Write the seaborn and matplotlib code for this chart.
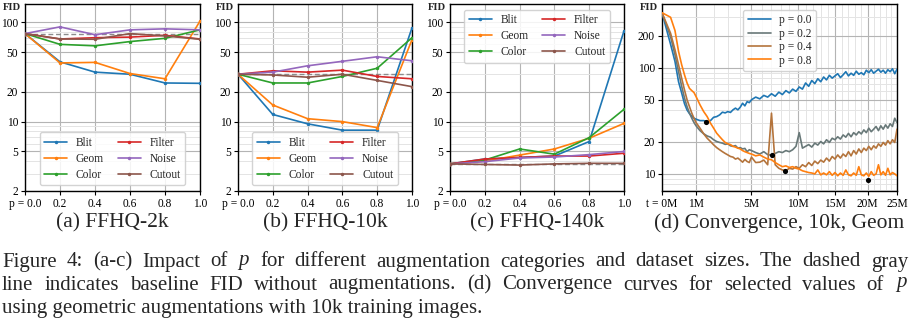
import numpy as np
import pandas as pd
import matplotlib
matplotlib.use("Agg")
import matplotlib.pyplot as plt
from matplotlib.lines import Line2D
from matplotlib.ticker import FixedLocator, NullFormatter, FixedFormatter
import seaborn as sns

# ---------------- data ----------------
p_values = [0.0, 0.2, 0.4, 0.6, 0.8, 1.0]
p_labels = ["p = 0.0", "0.2", "0.4", "0.6", "0.8", "1.0"]
categories = ["Blit", "Geom", "Color", "Filter", "Noise", "Cutout"]

# (a) FFHQ-2k
blit_2k = [77, 40, 31.5, 30, 24.5, 24.3]
geom_2k = [77, 39, 39.5, 30.5, 27, 103]
color_2k = [77, 60, 58, 64, 69, 84]
filter_2k = [77, 68, 70, 71, 74, 68]
noise_2k = [77, 90, 75, 84, 86, 84]
cutout_2k = [77, 68, 67.5, 77, 73, 67.5]
baseline_2k = 77

# (b) FFHQ-10k
blit_10k = [30, 11.8, 9.5, 8.2, 8.2, 88]
geom_10k = [30, 14.7, 10.7, 10, 8.7, 67]
color_10k = [30, 24.5, 24.5, 28.5, 34.5, 70]
filter_10k = [30, 32.5, 31.5, 33, 28.5, 27]
noise_10k = [30, 31.5, 36.5, 40.5, 45, 41]
cutout_10k = [30, 29.5, 28, 30, 26, 22.5]
baseline_10k = 30

# (c) FFHQ-140k
blit_140k = [3.75, 4.2, 4.35, 4.5, 6.3, 82]
geom_140k = [3.75, 4.0, 4.6, 5.3, 6.8, 9.6]
color_140k = [3.75, 4.1, 5.3, 4.7, 6.9, 13.3]
filter_140k = [3.75, 4.2, 4.35, 4.5, 4.5, 4.8]
noise_140k = [3.75, 3.95, 4.3, 4.4, 4.65, 5.0]
cutout_140k = [3.75, 3.7, 3.65, 3.75, 3.8, 3.8]
baseline_140k = 3.75

ab_yticks = [2, 5, 10, 20, 50, 100]

# (d) convergence (t in millions of images)
t_mimg = np.round(np.concatenate([np.arange(0.0, 1.01, 0.1),
                                  np.arange(1.2, 5.01, 0.2),
                                  np.arange(5.4, 25.01, 0.4)]), 2)
fid_p00 = [331, 167, 115, 74, 58, 46, 40, 37, 35, 33.5, 32.8,
           31.8, 31.8, 31.2, 31.8, 34.2, 34.7, 36.0, 38.2, 37.6, 38.7,
           38.0, 40.2, 41.7, 40.2, 42.6, 46.4, 43.8, 48, 47, 50,
           53, 51, 55, 53, 57, 54, 59, 56, 61, 58,
           63, 60, 66, 63, 72, 67, 76, 71, 79, 74,
           82, 77, 85, 80, 84, 88, 81, 86, 92, 84,
           89, 85, 93, 87, 90, 86, 95, 90, 96, 89,
           93, 97, 91, 95, 89, 96, 92, 98, 88, 97]
fid_p02 = [331, 197, 133, 92, 67, 52, 43, 37.4, 33.5, 30.5, 28.4,
           25.6, 23.9, 22.8, 22.2, 21, 20.2, 19.8, 19.5, 19, 19.2,
           18.4, 18.2, 18.5, 17.5, 17.7, 17.2, 17.4, 16.2, 16.9, 16.6,
           15.9, 15.4, 16.2, 15.2, 15, 15.6, 16.2, 15.9, 16.6, 16.2,
           16.9, 18.2, 24.5, 17.5, 18.2, 18.9, 17.9, 19.5, 18.7, 20.2,
           19.2, 21, 19.8, 21.7, 21, 22.4, 21.3, 23.3, 22.2, 24.1,
           22.4, 24.5, 23.3, 25, 23.8, 26, 24.5, 27, 25, 26.4,
           28, 25.6, 28.4, 26.4, 29, 27, 29.7, 28, 33.5, 30.5]
fid_p04 = [331, 212, 148, 107, 80, 62, 50, 43, 37.4, 33.5, 30.5,
           27, 23.9, 21.7, 20.2, 18.8, 17.7, 16.9, 16.2, 15.6, 15.1,
           14.6, 14.4, 13.8, 14.1, 13.5, 12.9, 13.7, 13.1, 12.8, 14.4,
           12.8, 12.9, 13.5, 12.2, 37.4, 12.2, 11.3, 10.9, 10.7, 11.3,
           11.1, 11.7, 11.3, 12.2, 11.7, 12.8, 12.0, 13.2, 12.5, 13.5,
           12.9, 14.1, 13.2, 14.6, 13.8, 15.1, 14.1, 15.4, 14.6, 16.2,
           14.8, 16.6, 15.4, 17.2, 15.9, 17.5, 16.6, 18.2, 16.9, 18.4,
           17.5, 19.2, 18.2, 19.8, 18.7, 20.6, 19.2, 21, 19.8, 26.4]
fid_p08 = [331, 300, 225, 143, 107, 86, 72, 64, 61, 58.5, 53.6,
           44.8, 38.7, 34.7, 30.1, 27, 24.2, 22.5, 21, 19.8, 19.2,
           18.9, 18.2, 17.9, 17.5, 17.2, 16.6, 16.2, 15.9, 15.6, 15.4,
           14.8, 15.1, 14.4, 13.8, 13.6, 12.8, 12.2, 11.7, 11.9, 11.5,
           11.7, 11.3, 11.1, 10.7, 10.5, 10.3, 10.2, 10.0, 10.9, 9.8,
           10.2, 9.8, 10.5, 9.7, 10.3, 9.6, 10.2, 9.7, 10.9, 9.8,
           9.6, 10.2, 9.7, 11.7, 9.8, 9.6, 10.2, 9.5, 10.5, 9.7,
           10.0, 12.2, 9.8, 10.5, 9.7, 11.3, 9.8, 10.3, 10.0, 9.6]
conv_labels = ["p = 0.0", "p = 0.2", "p = 0.4", "p = 0.8"]
best_t = [1.55, 7.1, 8.5, 20.1]
best_fid = [31, 15, 10.7, 8.8]
d_xticks = [0, 1, 5, 10, 15, 20, 25]
d_xticklabels = ["t = 0M", "1M", "5M", "10M", "15M", "20M", "25M"]
d_yticks = [10, 20, 50, 100, 200]

subtitles = ["(a) FFHQ-2k", "(b) FFHQ-10k", "(c) FFHQ-140k", "(d) Convergence, 10k, Geom"]
caption = [
    r"Figure 4: (a-c) Impact of $p$ for different augmentation categories and dataset sizes. The dashed gray",
    r"line indicates baseline FID without augmentations. (d) Convergence curves for selected values of $p$",
    r"using geometric augmentations with 10k training images.",
]
caption_justified = [True, True, False]

# ---------------- style ----------------
sns.set_style("ticks")
SERIF = ["Liberation Serif", "DejaVu Serif"]
plt.rcParams["font.family"] = SERIF
plt.rcParams["mathtext.fontset"] = "custom"
plt.rcParams["mathtext.it"] = "Liberation Serif:italic"
plt.rcParams["mathtext.rm"] = "Liberation Serif"

FS = 8.3
cat_colors = sns.color_palette("tab10", 6)
conv_colors = ["#1f77b4", "#687878", "#b4743c", "#ff7f0e"]

W, H = 910, 322
fig = plt.figure(figsize=(W / 100, H / 100), dpi=100)


def rect(l, r, t, b):
    return [l / W, 1 - b / H, (r - l) / W, (b - t) / H]


boxes = [(25, 200), (238, 412), (450, 624), (662, 897)]
TOP, BOT = 4, 191
axes = [fig.add_axes(rect(l, r, TOP, BOT)) for l, r in boxes]


def style_axis(ax):
    for s in ax.spines.values():
        s.set_color("black")
        s.set_linewidth(1.0)
    ax.tick_params(which="major", direction="out", length=3, width=0.8,
                   labelsize=FS, pad=2, colors="black")
    ax.tick_params(which="minor", length=0)
    ax.grid(which="major", color="#b4b4b4", linewidth=0.8)
    ax.grid(which="minor", color="#e4e4e4", linewidth=0.7)
    ax.set_axisbelow(True)
    ax.set_xlabel("")
    ax.set_ylabel("")


panel_series = [
    [blit_2k, geom_2k, color_2k, filter_2k, noise_2k, cutout_2k],
    [blit_10k, geom_10k, color_10k, filter_10k, noise_10k, cutout_10k],
    [blit_140k, geom_140k, color_140k, filter_140k, noise_140k, cutout_140k],
]
baselines = [baseline_2k, baseline_10k, baseline_140k]
legend_locs = ["lower center", "lower center", "upper center"]

for ax, series, base, loc in zip(axes[:3], panel_series, baselines, legend_locs):
    rows = []
    for cat, vals in zip(categories, series):
        for p, v in zip(p_values, vals):
            rows.append({"p": p, "FID": v, "aug": cat})
    df = pd.DataFrame(rows)
    ax.set_yscale("log")
    ax.axhline(base, color="#8c8c8c", linestyle=(0, (3.5, 2)), linewidth=1.0, zorder=1.5)
    sns.lineplot(data=df, x="p", y="FID", hue="aug", hue_order=categories,
                 palette=cat_colors, marker=".", markersize=5, markeredgewidth=0,
                 linewidth=1.2, ax=ax, legend=False, zorder=3)
    ax.set_xlim(0, 1)
    ax.set_ylim(2, 153)
    ax.set_xticks(p_values)
    ax.set_xticklabels(p_labels)
    ax.yaxis.set_major_locator(FixedLocator(ab_yticks))
    ax.yaxis.set_major_formatter(FixedFormatter([str(v) for v in ab_yticks]))
    ax.yaxis.set_minor_locator(FixedLocator([3, 4, 6, 7, 8, 9, 30, 40, 60, 70, 80, 90]))
    ax.yaxis.set_minor_formatter(NullFormatter())
    style_axis(ax)
    handles = [Line2D([], [], color=c, marker=".", markersize=5, markeredgewidth=0,
                      linewidth=1.2) for c in cat_colors]
    leg = ax.legend(handles, categories, loc=loc, ncol=2, fontsize=FS,
                    handlelength=2.0, handletextpad=0.75, columnspacing=1.2,
                    labelspacing=0.35, borderpad=0.4, borderaxespad=0.5,
                    frameon=True, fancybox=True, edgecolor="#cccccc", framealpha=0.85)

# panel (d)
axd = axes[3]
rows = []
for lab, vals in zip(conv_labels, [fid_p00, fid_p02, fid_p04, fid_p08]):
    for t, v in zip(t_mimg, vals):
        rows.append({"t": t, "FID": v, "p": lab})
dfd = pd.DataFrame(rows)
axd.set_xscale("function", functions=(lambda x: np.sign(x) * np.abs(x) ** 0.6,
                                      lambda y: np.sign(y) * np.abs(y) ** (1 / 0.6)))
axd.set_yscale("log")
sns.lineplot(data=dfd, x="t", y="FID", hue="p", hue_order=conv_labels,
             palette=conv_colors, linewidth=1.2, ax=axd, legend=False, zorder=3)
sns.scatterplot(x=best_t, y=best_fid, color="black", s=14, linewidth=0, ax=axd, zorder=5)
axd.set_xlim(0, 25)
axd.set_ylim(6.9, 400)
axd.xaxis.set_major_locator(FixedLocator(d_xticks))
axd.xaxis.set_major_formatter(FixedFormatter(d_xticklabels))
axd.xaxis.set_minor_locator(FixedLocator([v for v in range(2, 25) if v not in d_xticks]))
axd.xaxis.set_minor_formatter(NullFormatter())
axd.yaxis.set_major_locator(FixedLocator(d_yticks))
axd.yaxis.set_major_formatter(FixedFormatter([str(v) for v in d_yticks]))
axd.yaxis.set_minor_locator(FixedLocator([7, 8, 9, 30, 40, 60, 70, 80, 90, 300]))
axd.yaxis.set_minor_formatter(NullFormatter())
style_axis(axd)
handles = [Line2D([], [], color=c, linewidth=1.2) for c in conv_colors]
axd.legend(handles, conv_labels, loc="upper center", fontsize=FS, handlelength=2.0,
           handletextpad=0.7, labelspacing=0.12, borderpad=0.4, borderaxespad=0.5,
           frameon=True, fancybox=True, edgecolor="#cccccc", framealpha=0.85)

# FID labels and subtitles
for (l, r), title in zip(boxes, subtitles):
    fig.text((l - 4) / W, 1 - 3.5 / H, "FID", fontsize=7.6, fontweight="bold",
             ha="right", va="top")
    fig.text((l + r) / 2 / W, 1 - 223 / H, title, fontsize=15.5, ha="center", va="center")

# caption: justified lines (word by word), like the LaTeX original
CAP_FS = 15
renderer = fig.canvas.get_renderer()
x_left, x_right = 2, 908
for i, (line, just) in enumerate(zip(caption, caption_justified)):
    yc = 1 - (262 + 23 * i) / H
    if not just:
        fig.text(x_left / W, yc, line, fontsize=CAP_FS, ha="left", va="center")
        continue
    words = line.split(" ")
    texts = [fig.text(0, yc, w, fontsize=CAP_FS, ha="left", va="center") for w in words]
    widths = [t.get_window_extent(renderer=renderer).width for t in texts]
    gap = (x_right - x_left - sum(widths)) / (len(words) - 1)
    x = x_left
    for t, w in zip(texts, widths):
        t.set_x(x / W)
        x += w + gap

fig.savefig("out.png", dpi=100)
